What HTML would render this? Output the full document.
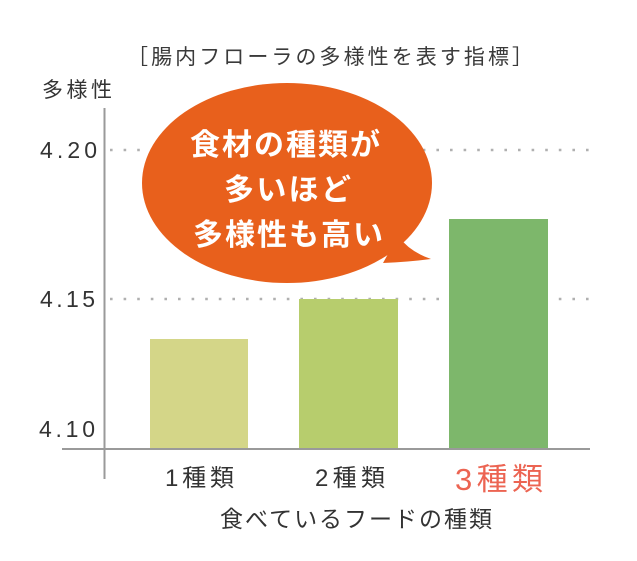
<!DOCTYPE html>
<html><head><meta charset="utf-8"><style>
html,body{margin:0;padding:0;background:#fff;}
svg{display:block;}
text{font-family:"Liberation Sans","Noto Sans CJK JP",sans-serif;}
</style></head><body>
<svg width="637" height="561" viewBox="0 0 637 561" xmlns="http://www.w3.org/2000/svg">
<rect width="637" height="561" fill="#fff"/>
<text x="127" y="64" font-size="21" fill="#3a3a3a" textLength="406" lengthAdjust="spacing">［腸内フローラの多様性を表す指標］</text>
<text x="42" y="97" font-size="21" fill="#333" textLength="70" lengthAdjust="spacing">多様性</text>
<g stroke="#b0b0b0" stroke-width="2.6" stroke-dasharray="2.6 11">
<line x1="110" y1="150" x2="592" y2="150"/>
<line x1="110" y1="299" x2="592" y2="299"/>
</g>
<rect x="150" y="339" width="98" height="110" fill="#d4d688"/>
<rect x="299" y="299" width="99" height="150" fill="#b7cd6d"/>
<rect x="449" y="219" width="99" height="230" fill="#7db76b"/>
<line x1="104.5" y1="108" x2="104.5" y2="479" stroke="#9a9a9a" stroke-width="2"/>
<line x1="62" y1="449" x2="590" y2="449" stroke="#9a9a9a" stroke-width="2"/>
<g font-size="23" fill="#333">
<text x="40" y="158" textLength="57" lengthAdjust="spacing">4.20</text>
<text x="40" y="307" textLength="55" lengthAdjust="spacing">4.15</text>
<text x="39" y="437" textLength="56" lengthAdjust="spacing">4.10</text>
</g>
<g font-size="24" fill="#333">
<text x="165" y="486" textLength="69" lengthAdjust="spacing">1種類</text>
<text x="315" y="486" textLength="70" lengthAdjust="spacing">2種類</text>
</g>
<text x="455" y="490" font-size="31" fill="#ec6452" textLength="88" lengthAdjust="spacing">3種類</text>
<text x="220" y="527" font-size="23" fill="#333" textLength="272" lengthAdjust="spacing">食べているフードの種類</text>
<ellipse cx="287" cy="183" rx="145" ry="100" fill="#e8601c"/>
<path d="M398 236 Q410 252 431 259 Q408 262 383 263 Z" fill="#e8601c"/>
<g font-size="30" fill="#fff" font-weight="bold">
<text x="190" y="155" textLength="190" lengthAdjust="spacing">食材の種類が</text>
<text x="224" y="200" textLength="127" lengthAdjust="spacing">多いほど</text>
<text x="193" y="245" textLength="190" lengthAdjust="spacing">多様性も高い</text>
</g>
</svg>
</body></html>
